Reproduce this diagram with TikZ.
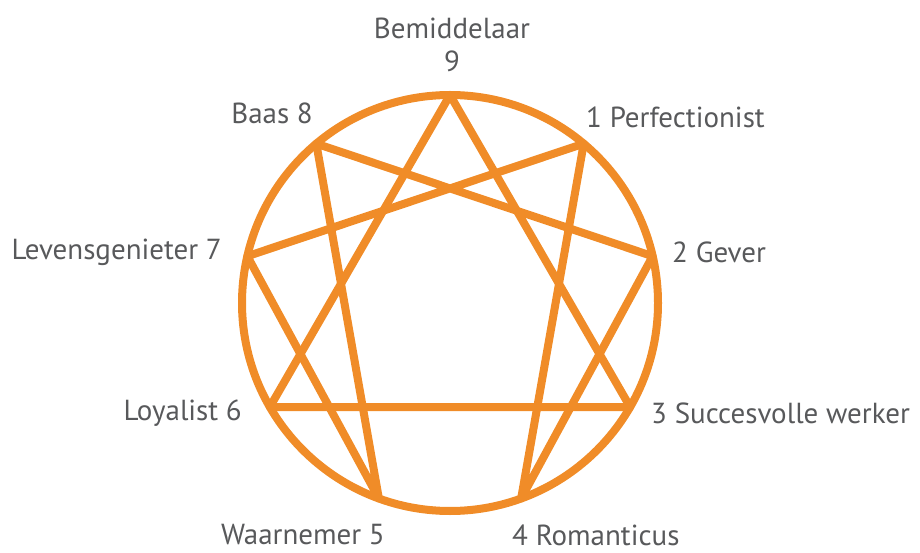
\documentclass[tikz,border=0pt]{standalone}
\usepackage{fontspec}
\setmainfont{PT Sans}
\usepackage{xcolor}
\usetikzlibrary{positioning, calc}
\definecolor{ennorange}{HTML}{F08C28}
\definecolor{enngray}{HTML}{58595B}

\begin{document}
\begin{tikzpicture}[
        x=1pt, y=1pt,
        ring/.style={
            draw=ennorange,
            line width=8pt
        },
        line/.style={
            draw=ennorange,
            line width=8pt,
            line join=round
        },
        type/.style={
            text=enngray,
            font=\fontsize{29}{33}\selectfont,
            inner sep=0pt,
            align=center
        }
    ]
        \useasboundingbox (0,0) rectangle (920,552);
        % circle and the nine points on it
        \coordinate (c) at (450,249);
        \coordinate (p9) at ($(c)+(90:208)$);
        \coordinate (p1) at ($(c)+(50:208)$);
        \coordinate (p2) at ($(c)+(13:208)$);
        \coordinate (p3) at ($(c)+(-30:208)$);
        \coordinate (p4) at ($(c)+(-70:208)$);
        \coordinate (p5) at ($(c)+(-110:208)$);
        \coordinate (p6) at ($(c)+(-150:208)$);
        \coordinate (p7) at ($(c)+(167:208)$);
        \coordinate (p8) at ($(c)+(130:208)$);

        % triangle and hexad
        \draw[line] (p9) -- (p3) -- (p6) -- cycle;
        \draw[line] (p1) -- (p4) -- (p2) -- (p8) -- (p5) -- (p7) -- cycle;
        \draw[ring] (c) circle (208);

        % labels
        \node[type] (bemiddelaar) at (452,507) {Bemiddelaar\\9};
        \node[type, anchor=east] (baas) at (313,439) {Baas 8};
        \node[type, anchor=west] (perfectionist) at (586,435) {1 Perfectionist};
        \node[type, anchor=east] (levensgenieter) at (222,300) {Levensgenieter 7};
        \node[type, anchor=west] (gever) at (672,300) {2 Gever};
        \node[type, anchor=east] (loyalist) at (242,139) {Loyalist 6};
        \node[type, anchor=west] (succesvolle) at (651,139) {3 Succesvolle werker};
        \node[type, anchor=east] (waarnemer) at (385,17) {Waarnemer 5};
        \node[type, anchor=west] (romanticus) at (512,17) {4 Romanticus};
    \end{tikzpicture}
\end{document}
